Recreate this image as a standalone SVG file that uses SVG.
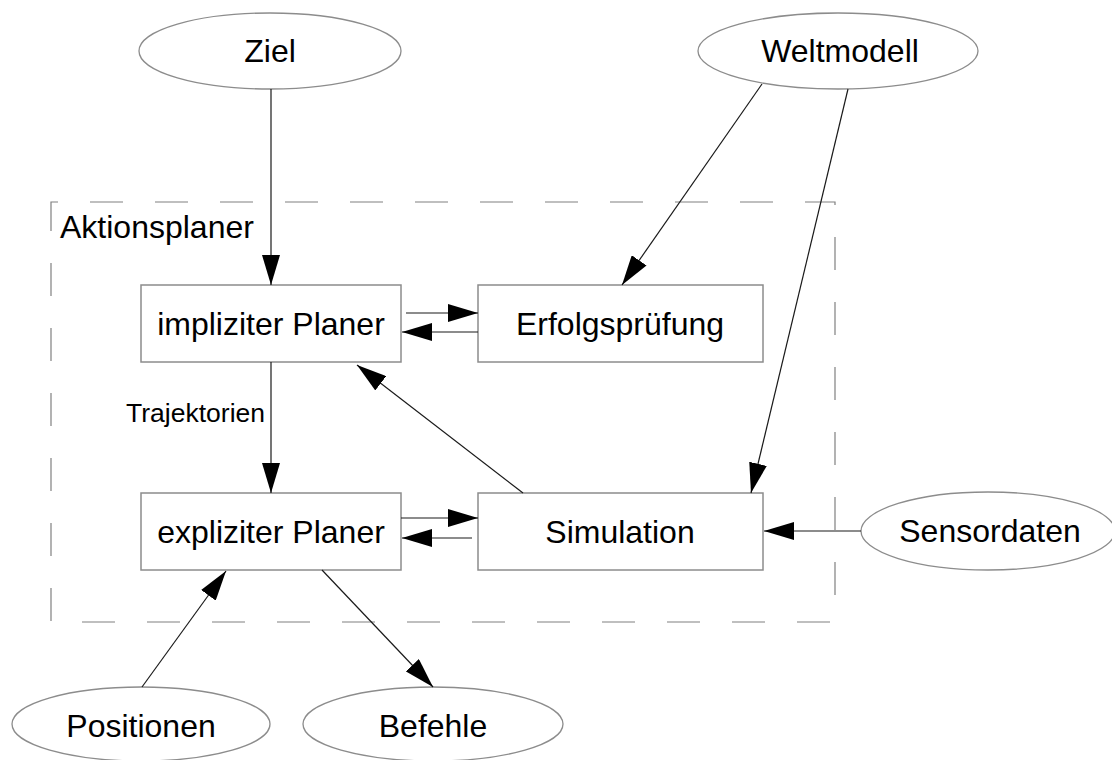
<svg xmlns="http://www.w3.org/2000/svg" width="1112" height="760" viewBox="0 0 1112 760">
  <style>
    .box { fill: #ffffff; stroke: #8c8c8c; stroke-width: 1.5; }
    .term { fill: #ffffff; stroke: #8c8c8c; stroke-width: 1.3; }
    .lbl { font-family: "Liberation Sans", Arial, sans-serif; font-size: 32px; fill: #000; text-anchor: middle; }
    .small { font-family: "Liberation Sans", Arial, sans-serif; font-size: 26.5px; fill: #000; }
    .edge { stroke: #1a1a1a; stroke-width: 1.2; fill: none; marker-end: url(#head); }
    .frame { fill: none; stroke: #808080; stroke-width: 1.2; stroke-dasharray: 33 32; stroke-dashoffset: 26; }
  </style>
  <defs>
    <marker id="head" markerUnits="userSpaceOnUse" markerWidth="30" markerHeight="18" refX="30" refY="9" orient="auto">
      <path d="M0,0 L30,9 L0,18 Z" fill="#000"/>
    </marker>
  </defs>

  <rect width="1112" height="760" fill="#ffffff"/>

  <!-- planner boundary -->
  <g id="aktionsplaner">
    <rect class="frame" x="51" y="202" width="784" height="420"/>
    <text class="lbl" x="60" y="238" style="text-anchor:start">Aktionsplaner</text>
  </g>

  <g id="ziel">
    <ellipse class="term" cx="270" cy="51" rx="131" ry="38"/>
    <text class="lbl" x="270" y="62">Ziel</text>
  </g>
  <g id="weltmodell">
    <ellipse class="term" cx="838" cy="51" rx="140" ry="38"/>
    <text class="lbl" x="840" y="62">Weltmodell</text>
  </g>
  <g id="impliziter-planer">
    <rect class="box" x="141" y="285" width="260" height="77"/>
    <text class="lbl" x="271" y="335">impliziter Planer</text>
  </g>
  <g id="erfolgspruefung">
    <rect class="box" x="478" y="285" width="285" height="77"/>
    <text class="lbl" x="620" y="335">Erfolgsprüfung</text>
  </g>
  <g id="expliziter-planer">
    <rect class="box" x="141" y="493" width="260" height="77"/>
    <text class="lbl" x="271" y="543">expliziter Planer</text>
  </g>
  <g id="simulation">
    <rect class="box" x="478" y="493" width="285" height="77"/>
    <text class="lbl" x="620" y="543">Simulation</text>
  </g>
  <g id="sensordaten">
    <ellipse class="term" cx="988" cy="531" rx="127" ry="39"/>
    <text class="lbl" x="990" y="542">Sensordaten</text>
  </g>
  <g id="positionen">
    <ellipse class="term" cx="141" cy="724" rx="129" ry="37"/>
    <text class="lbl" x="141" y="737">Positionen</text>
  </g>
  <g id="befehle">
    <ellipse class="term" cx="433" cy="724" rx="130" ry="37"/>
    <text class="lbl" x="433" y="737">Befehle</text>
  </g>

  <!-- connectors -->
  <g id="connectors">
    <line class="edge" x1="271" y1="89" x2="271" y2="285"/>
    <line class="edge" x1="762" y1="84" x2="622" y2="285"/>
    <line class="edge" x1="848" y1="89" x2="751" y2="493"/>
    <line class="edge" x1="406" y1="313" x2="478" y2="313"/>
    <line class="edge" x1="478" y1="332" x2="402" y2="332"/>
    <line class="edge" x1="271" y1="362" x2="271" y2="493"/>
    <text class="small" x="265" y="422" style="text-anchor:end">Trajektorien</text>
    <line class="edge" x1="523" y1="493" x2="357" y2="365"/>
    <line class="edge" x1="401" y1="518" x2="478" y2="518"/>
    <line class="edge" x1="472" y1="538" x2="402" y2="538"/>
    <line class="edge" x1="861" y1="531" x2="764" y2="531"/>
    <line class="edge" x1="142" y1="687" x2="226" y2="571"/>
    <line class="edge" x1="322" y1="570" x2="433" y2="687"/>
  </g>
</svg>
